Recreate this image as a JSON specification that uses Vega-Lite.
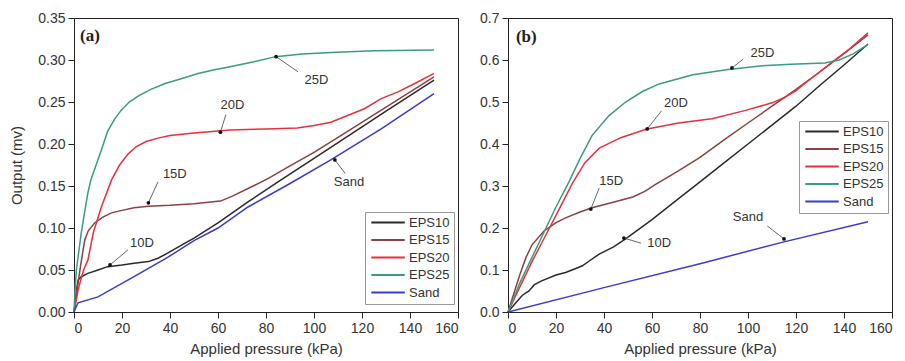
{
  "$schema": "https://vega.github.io/schema/vega-lite/v6.json",
  "padding": {"left": 9, "top": 10, "right": 5, "bottom": 0},
  "background": "white",
  "config": {
    "font": "Liberation Sans",
    "view": {"stroke": "#222", "strokeWidth": 1},
    "axis": {
      "domainColor": "#222", "tickColor": "#222", "labelColor": "#333", "titleColor": "#333",
      "labelFontSize": 14, "titleFontSize": 15, "titleFontWeight": "normal", "labelPadding": 3,
      "grid": false
    }
  },
  "datasets": {
    "a": [
      {"s":"EPS10","x":0,"y":0},{"s":"EPS10","x":1,"y":0.025},{"s":"EPS10","x":1.7,"y":0.038},{"s":"EPS10","x":3,"y":0.042},{"s":"EPS10","x":5.8,"y":0.046},{"s":"EPS10","x":10,"y":0.05},{"s":"EPS10","x":14,"y":0.054},{"s":"EPS10","x":20,"y":0.056},{"s":"EPS10","x":25,"y":0.058},{"s":"EPS10","x":31,"y":0.06},{"s":"EPS10","x":35,"y":0.064},{"s":"EPS10","x":39,"y":0.07},{"s":"EPS10","x":45,"y":0.08},{"s":"EPS10","x":50,"y":0.088},{"s":"EPS10","x":60,"y":0.106},{"s":"EPS10","x":72.5,"y":0.131},{"s":"EPS10","x":85,"y":0.155},{"s":"EPS10","x":100,"y":0.183},{"s":"EPS10","x":114,"y":0.209},{"s":"EPS10","x":130,"y":0.239},{"s":"EPS10","x":150,"y":0.276},
      {"s":"EPS15","x":0,"y":0},{"s":"EPS15","x":1.7,"y":0.035},{"s":"EPS15","x":3,"y":0.06},{"s":"EPS15","x":4.5,"y":0.086},{"s":"EPS15","x":6,"y":0.097},{"s":"EPS15","x":8.6,"y":0.106},{"s":"EPS15","x":12,"y":0.113},{"s":"EPS15","x":15.6,"y":0.118},{"s":"EPS15","x":20,"y":0.121},{"s":"EPS15","x":25,"y":0.124},{"s":"EPS15","x":31,"y":0.126},{"s":"EPS15","x":40,"y":0.127},{"s":"EPS15","x":50,"y":0.129},{"s":"EPS15","x":61,"y":0.132},{"s":"EPS15","x":66,"y":0.138},{"s":"EPS15","x":72.5,"y":0.147},{"s":"EPS15","x":81,"y":0.159},{"s":"EPS15","x":90,"y":0.174},{"s":"EPS15","x":100,"y":0.19},{"s":"EPS15","x":114,"y":0.215},{"s":"EPS15","x":130,"y":0.244},{"s":"EPS15","x":150,"y":0.28},
      {"s":"EPS20","x":0,"y":0},{"s":"EPS20","x":1,"y":0.015},{"s":"EPS20","x":1.7,"y":0.026},{"s":"EPS20","x":3,"y":0.04},{"s":"EPS20","x":4,"y":0.05},{"s":"EPS20","x":5.8,"y":0.062},{"s":"EPS20","x":8,"y":0.094},{"s":"EPS20","x":11.4,"y":0.125},{"s":"EPS20","x":15.6,"y":0.157},{"s":"EPS20","x":19,"y":0.175},{"s":"EPS20","x":22.5,"y":0.188},{"s":"EPS20","x":26,"y":0.197},{"s":"EPS20","x":30,"y":0.203},{"s":"EPS20","x":35,"y":0.207},{"s":"EPS20","x":40,"y":0.21},{"s":"EPS20","x":50,"y":0.213},{"s":"EPS20","x":65,"y":0.2167},{"s":"EPS20","x":80,"y":0.218},{"s":"EPS20","x":93,"y":0.219},{"s":"EPS20","x":100,"y":0.222},{"s":"EPS20","x":107,"y":0.226},{"s":"EPS20","x":114,"y":0.234},{"s":"EPS20","x":121,"y":0.242},{"s":"EPS20","x":128,"y":0.254},{"s":"EPS20","x":135,"y":0.262},{"s":"EPS20","x":142,"y":0.272},{"s":"EPS20","x":150,"y":0.284},
      {"s":"EPS25","x":0,"y":0},{"s":"EPS25","x":0.5,"y":0.03},{"s":"EPS25","x":1,"y":0.05},{"s":"EPS25","x":2,"y":0.072},{"s":"EPS25","x":3,"y":0.094},{"s":"EPS25","x":4.5,"y":0.12},{"s":"EPS25","x":5.8,"y":0.142},{"s":"EPS25","x":7,"y":0.157},{"s":"EPS25","x":8.6,"y":0.17},{"s":"EPS25","x":11.4,"y":0.193},{"s":"EPS25","x":14,"y":0.215},{"s":"EPS25","x":17,"y":0.23},{"s":"EPS25","x":19.6,"y":0.24},{"s":"EPS25","x":23,"y":0.25},{"s":"EPS25","x":26.7,"y":0.257},{"s":"EPS25","x":32,"y":0.265},{"s":"EPS25","x":38,"y":0.272},{"s":"EPS25","x":45,"y":0.278},{"s":"EPS25","x":51.7,"y":0.284},{"s":"EPS25","x":58,"y":0.288},{"s":"EPS25","x":65,"y":0.292},{"s":"EPS25","x":75,"y":0.298},{"s":"EPS25","x":84,"y":0.304},{"s":"EPS25","x":95,"y":0.307},{"s":"EPS25","x":107,"y":0.309},{"s":"EPS25","x":125,"y":0.311},{"s":"EPS25","x":150,"y":0.312},
      {"s":"Sand","x":0,"y":0},{"s":"Sand","x":1.7,"y":0.011},{"s":"Sand","x":10,"y":0.018},{"s":"Sand","x":25,"y":0.042},{"s":"Sand","x":39,"y":0.065},{"s":"Sand","x":50,"y":0.085},{"s":"Sand","x":60,"y":0.1},{"s":"Sand","x":72.5,"y":0.125},{"s":"Sand","x":90,"y":0.153},{"s":"Sand","x":107,"y":0.181},{"s":"Sand","x":128,"y":0.218},{"s":"Sand","x":150,"y":0.26}
    ],
    "b": [
      {"s":"EPS10","x":0,"y":0},{"s":"EPS10","x":3,"y":0.02},{"s":"EPS10","x":6,"y":0.04},{"s":"EPS10","x":8.75,"y":0.05},{"s":"EPS10","x":11,"y":0.065},{"s":"EPS10","x":14,"y":0.074},{"s":"EPS10","x":20,"y":0.088},{"s":"EPS10","x":24,"y":0.094},{"s":"EPS10","x":28,"y":0.103},{"s":"EPS10","x":31,"y":0.11},{"s":"EPS10","x":34,"y":0.122},{"s":"EPS10","x":38,"y":0.138},{"s":"EPS10","x":44,"y":0.155},{"s":"EPS10","x":49,"y":0.174},{"s":"EPS10","x":60,"y":0.22},{"s":"EPS10","x":70,"y":0.265},{"s":"EPS10","x":80,"y":0.31},{"s":"EPS10","x":90,"y":0.355},{"s":"EPS10","x":100,"y":0.4},{"s":"EPS10","x":110,"y":0.445},{"s":"EPS10","x":120,"y":0.49},{"s":"EPS10","x":130,"y":0.54},{"s":"EPS10","x":140,"y":0.588},{"s":"EPS10","x":150,"y":0.638},
      {"s":"EPS15","x":0,"y":0},{"s":"EPS15","x":2.5,"y":0.045},{"s":"EPS15","x":5,"y":0.09},{"s":"EPS15","x":7.5,"y":0.13},{"s":"EPS15","x":10,"y":0.16},{"s":"EPS15","x":15,"y":0.193},{"s":"EPS15","x":20,"y":0.213},{"s":"EPS15","x":24,"y":0.224},{"s":"EPS15","x":30,"y":0.238},{"s":"EPS15","x":35,"y":0.248},{"s":"EPS15","x":45,"y":0.263},{"s":"EPS15","x":52,"y":0.274},{"s":"EPS15","x":57,"y":0.287},{"s":"EPS15","x":61.5,"y":0.304},{"s":"EPS15","x":71,"y":0.336},{"s":"EPS15","x":80,"y":0.368},{"s":"EPS15","x":90,"y":0.41},{"s":"EPS15","x":100,"y":0.45},{"s":"EPS15","x":110,"y":0.49},{"s":"EPS15","x":120,"y":0.53},{"s":"EPS15","x":130,"y":0.572},{"s":"EPS15","x":140,"y":0.615},{"s":"EPS15","x":150,"y":0.66},
      {"s":"EPS20","x":0,"y":0},{"s":"EPS20","x":5,"y":0.06},{"s":"EPS20","x":10,"y":0.12},{"s":"EPS20","x":15,"y":0.175},{"s":"EPS20","x":20,"y":0.23},{"s":"EPS20","x":26.7,"y":0.305},{"s":"EPS20","x":32,"y":0.355},{"s":"EPS20","x":38,"y":0.39},{"s":"EPS20","x":47,"y":0.415},{"s":"EPS20","x":57.5,"y":0.435},{"s":"EPS20","x":71,"y":0.45},{"s":"EPS20","x":85,"y":0.46},{"s":"EPS20","x":99,"y":0.48},{"s":"EPS20","x":110,"y":0.498},{"s":"EPS20","x":115,"y":0.51},{"s":"EPS20","x":120,"y":0.527},{"s":"EPS20","x":125,"y":0.55},{"s":"EPS20","x":134,"y":0.59},{"s":"EPS20","x":142,"y":0.625},{"s":"EPS20","x":150,"y":0.665},
      {"s":"EPS25","x":0,"y":0},{"s":"EPS25","x":5,"y":0.07},{"s":"EPS25","x":10,"y":0.13},{"s":"EPS25","x":15,"y":0.19},{"s":"EPS25","x":20,"y":0.25},{"s":"EPS25","x":25.4,"y":0.31},{"s":"EPS25","x":30,"y":0.365},{"s":"EPS25","x":35,"y":0.42},{"s":"EPS25","x":42,"y":0.467},{"s":"EPS25","x":49,"y":0.5},{"s":"EPS25","x":56,"y":0.525},{"s":"EPS25","x":63,"y":0.543},{"s":"EPS25","x":77,"y":0.565},{"s":"EPS25","x":91,"y":0.577},{"s":"EPS25","x":105,"y":0.586},{"s":"EPS25","x":118,"y":0.59},{"s":"EPS25","x":132,"y":0.593},{"s":"EPS25","x":138,"y":0.6},{"s":"EPS25","x":144,"y":0.615},{"s":"EPS25","x":150,"y":0.637},
      {"s":"Sand","x":0,"y":0},{"s":"Sand","x":40,"y":0.058},{"s":"Sand","x":80,"y":0.115},{"s":"Sand","x":115,"y":0.167},{"s":"Sand","x":150,"y":0.215}
    ],
    "labA": [
      {"t":"25D","x":101,"y":0.276,"ax":93.3,"ay":0.286,"bx":84.2,"by":0.304},
      {"t":"20D","x":66,"y":0.246,"ax":63.3,"ay":0.235,"bx":61,"by":0.214},
      {"t":"15D","x":42,"y":0.164,"ax":35,"ay":0.155,"bx":31,"by":0.13},
      {"t":"10D","x":28.3,"y":0.082,"ax":22.5,"ay":0.074,"bx":15,"by":0.056},
      {"t":"Sand","x":114.6,"y":0.155,"ax":113,"ay":0.165,"bx":108.7,"by":0.181}
    ],
    "labB": [
      {"t":"25D","x":106,"y":0.617,"ax":98,"ay":0.602,"bx":93.3,"by":0.581},
      {"t":"20D","x":70,"y":0.498,"ax":64,"ay":0.479,"bx":58,"by":0.436},
      {"t":"15D","x":43,"y":0.312,"ax":38,"ay":0.295,"bx":34.5,"by":0.245},
      {"t":"10D","x":63,"y":0.164,"ax":55.4,"ay":0.164,"bx":48.3,"by":0.176},
      {"t":"Sand","x":100,"y":0.226,"ax":108,"ay":0.205,"bx":115,"by":0.174}
    ],
    "panA": [{"t":"(a)","x":2.5,"y":0.3286}],
    "panB": [{"t":"(b)","x":3.3,"y":0.655}]
  },
  "hconcat": [
    {
      "width": 384, "height": 294,
      "layer": [
        {
          "data": {"name": "a"},
          "mark": {"type": "line", "strokeWidth": 1.5},
          "encoding": {
            "x": {"field": "x", "type": "quantitative", "scale": {"domain": [0, 160], "nice": false},
              "axis": {"title": "Applied pressure (kPa)", "titlePadding": 6, "values": [0,10,20,30,40,50,60,70,80,90,100,110,120,130,140,150,160],
                "labelExpr": "datum.value % 20 === 0 ? datum.label : ''",
                "tickSize": {"condition": {"test": "datum.value % 20 === 0", "value": 6}, "value": 3}}},
            "y": {"field": "y", "type": "quantitative", "scale": {"domain": [0, 0.35], "nice": false},
              "axis": {"title": "Output (mv)", "format": ".2f", "titlePadding": 13,
                "values": [0,0.025,0.05,0.075,0.1,0.125,0.15,0.175,0.2,0.225,0.25,0.275,0.3,0.325,0.35],
                "labelExpr": "round(datum.value*1000) % 50 === 0 ? datum.label : ''",
                "tickSize": {"condition": {"test": "round(datum.value*1000) % 50 === 0", "value": 6}, "value": 3}}},
            "color": {"field": "s", "type": "nominal",
              "scale": {"domain": ["EPS10","EPS15","EPS20","EPS25","Sand"], "range": ["#2a2a2a","#8c4040","#e8303c","#3a9a84","#3a3ad0"]},
              "legend": {"title": null, "orient": "none", "legendX": 291, "legendY": 194, "strokeColor": "#999", "fillColor": "white",
                "padding": 4, "labelFontSize": 13, "labelColor": "#333", "symbolType": "M-1,0H7", "symbolSize": 70, "symbolStrokeWidth": 2, "rowPadding": 3.5, "labelOffset": 27}}
          }
        },
        {
          "data": {"name": "labA"},
          "mark": {"type": "rule", "color": "#666", "strokeWidth": 1},
          "encoding": {"x": {"field": "ax", "type": "quantitative"}, "y": {"field": "ay", "type": "quantitative"}, "x2": {"field": "bx"}, "y2": {"field": "by"}}
        },
        {
          "data": {"name": "labA"},
          "mark": {"type": "point", "filled": true, "color": "#111", "size": 14, "opacity": 1},
          "encoding": {"x": {"field": "bx", "type": "quantitative"}, "y": {"field": "by", "type": "quantitative"}}
        },
        {
          "data": {"name": "labA"},
          "mark": {"type": "text", "fontSize": 13, "color": "#333"},
          "encoding": {"x": {"field": "x", "type": "quantitative"}, "y": {"field": "y", "type": "quantitative"}, "text": {"field": "t"}}
        },
        {
          "data": {"name": "panA"},
          "mark": {"type": "text", "font": "Liberation Serif", "fontWeight": "bold", "fontSize": 17, "align": "left", "color": "#222"},
          "encoding": {"x": {"field": "x", "type": "quantitative"}, "y": {"field": "y", "type": "quantitative"}, "text": {"field": "t"}}
        }
      ]
    },
    {
      "width": 384, "height": 294,
      "layer": [
        {
          "data": {"name": "b"},
          "mark": {"type": "line", "strokeWidth": 1.5},
          "encoding": {
            "x": {"field": "x", "type": "quantitative", "scale": {"domain": [0, 160], "nice": false},
              "axis": {"title": "Applied pressure (kPa)", "titlePadding": 6, "values": [0,10,20,30,40,50,60,70,80,90,100,110,120,130,140,150,160],
                "labelExpr": "datum.value % 20 === 0 ? datum.label : ''",
                "tickSize": {"condition": {"test": "datum.value % 20 === 0", "value": 6}, "value": 3}}},
            "y": {"field": "y", "type": "quantitative", "scale": {"domain": [0, 0.7], "nice": false},
              "axis": {"title": null, "format": ".1f",
                "values": [0,0.05,0.1,0.15,0.2,0.25,0.3,0.35,0.4,0.45,0.5,0.55,0.6,0.65,0.7],
                "labelExpr": "round(datum.value*100) % 10 === 0 ? datum.label : ''",
                "tickSize": {"condition": {"test": "round(datum.value*100) % 10 === 0", "value": 6}, "value": 3}}},
            "color": {"field": "s", "type": "nominal",
              "scale": {"domain": ["EPS10","EPS15","EPS20","EPS25","Sand"], "range": ["#2a2a2a","#8c4040","#e8303c","#3a9a84","#3a3ad0"]},
              "legend": {"title": null, "orient": "none", "legendX": 291, "legendY": 103, "strokeColor": "#999", "fillColor": "white",
                "padding": 4, "labelFontSize": 13, "labelColor": "#333", "symbolType": "M-1,0H7", "symbolSize": 70, "symbolStrokeWidth": 2, "rowPadding": 3.5, "labelOffset": 27}}
          }
        },
        {
          "data": {"name": "labB"},
          "mark": {"type": "rule", "color": "#666", "strokeWidth": 1},
          "encoding": {"x": {"field": "ax", "type": "quantitative"}, "y": {"field": "ay", "type": "quantitative"}, "x2": {"field": "bx"}, "y2": {"field": "by"}}
        },
        {
          "data": {"name": "labB"},
          "mark": {"type": "point", "filled": true, "color": "#111", "size": 14, "opacity": 1},
          "encoding": {"x": {"field": "bx", "type": "quantitative"}, "y": {"field": "by", "type": "quantitative"}}
        },
        {
          "data": {"name": "labB"},
          "mark": {"type": "text", "fontSize": 13, "color": "#333"},
          "encoding": {"x": {"field": "x", "type": "quantitative"}, "y": {"field": "y", "type": "quantitative"}, "text": {"field": "t"}}
        },
        {
          "data": {"name": "panB"},
          "mark": {"type": "text", "font": "Liberation Serif", "fontWeight": "bold", "fontSize": 17, "align": "left", "color": "#222"},
          "encoding": {"x": {"field": "x", "type": "quantitative"}, "y": {"field": "y", "type": "quantitative"}, "text": {"field": "t"}}
        }
      ]
    }
  ],
  "spacing": 20,
  "resolve": {"scale": {"color": "independent"}, "legend": {"color": "independent"}}
}
